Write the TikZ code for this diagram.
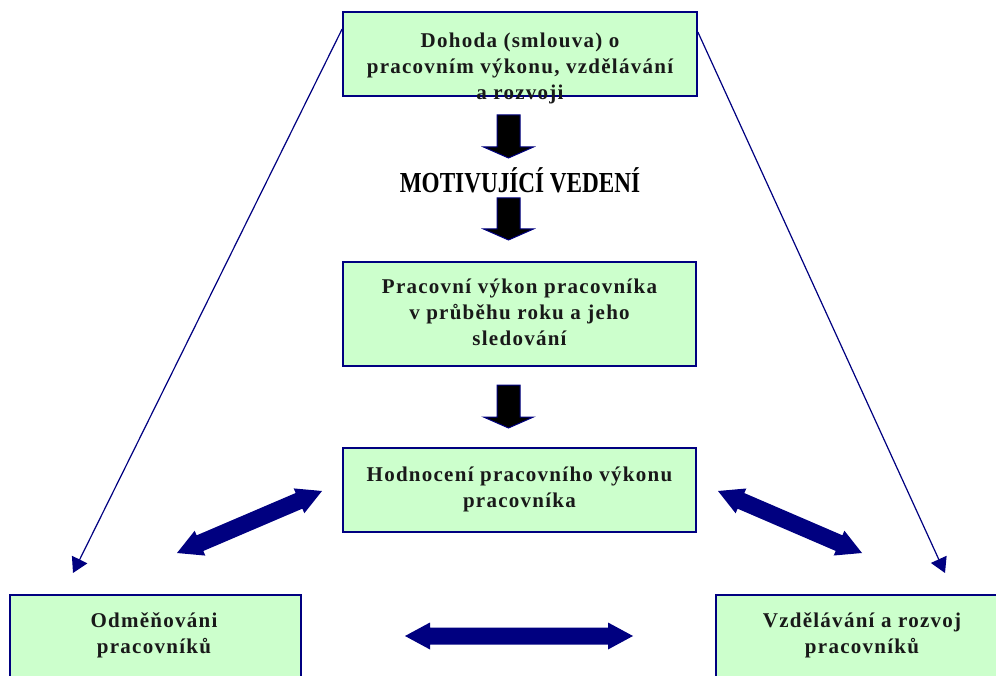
\documentclass[tikz,border=0pt]{standalone}
\usepackage{fontspec}
\usepackage{graphicx}
\setmainfont{Liberation Serif}
\newfontfamily\boxfont{Liberation Serif}[LetterSpace=6]
\usetikzlibrary{arrows.meta,calc}
\definecolor{navy}{HTML}{000080}
\definecolor{boxgreen}{HTML}{CCFFCC}
\newcommand\thickdbl[2]{%
  \fill[navy] (#1)
  -- ($(#1)!25pt!(#2)!13.5pt!90:(#2)$)
  -- ($(#1)!25pt!(#2)!8.5pt!90:(#2)$)
  -- ($(#2)!25pt!(#1)!8.5pt!-90:(#1)$)
  -- ($(#2)!25pt!(#1)!13.5pt!-90:(#1)$)
  -- (#2)
  -- ($(#2)!25pt!(#1)!13.5pt!90:(#1)$)
  -- ($(#2)!25pt!(#1)!8.5pt!90:(#1)$)
  -- ($(#1)!25pt!(#2)!8.5pt!-90:(#2)$)
  -- ($(#1)!25pt!(#2)!13.5pt!-90:(#2)$)
  -- cycle;}
\begin{document}
\begin{tikzpicture}[x=1pt,y=-1pt,
  box/.style={draw=navy,fill=boxgreen,line width=1.8pt,inner sep=0pt},
  txt/.style={font=\boxfont\bfseries\fontsize{21}{26}\selectfont,align=center,inner sep=0pt,text=black!90},
  thinarr/.style={draw=navy,line width=1.2pt,-{Triangle[length=15pt,width=17pt]}},
  pics/downarr/.style={code={
    \filldraw[fill=black,draw=navy,line width=1pt,line join=miter]
      (-11.5,0) -- (11.5,0) -- (11.5,#1-11) -- (25,#1-11) -- (0,#1)
      -- (-25,#1-11) -- (-11.5,#1-11) -- cycle;}}]
\useasboundingbox (0,0) rectangle (996,676);
% boxes
\node[box,minimum width=354,minimum height=84] (top) at (520,54) {};
\node[box,minimum width=353,minimum height=104] (perf) at (519.5,314) {};
\node[box,minimum width=353,minimum height=84] (eval) at (519.5,490) {};
\node[box,minimum width=291,minimum height=110] (reward) at (155.5,650) {};
\node[box,minimum width=294,minimum height=110] (dev) at (863,650) {};
% texts
\node[txt] (topt) at (520,68) {Dohoda (smlouva) o\\pracovním výkonu, vzdělávání\\a rozvoji};
\node[txt] (perft) at (519.5,312.5) {Pracovní výkon pracovníka\\v průběhu roku a jeho\\sledování};
\node[txt] (evalt) at (519.5,489.5) {Hodnocení pracovního výkonu\\pracovníka};
\node[txt] (rewardt) at (154,635.5) {Odměňováni\\pracovníků};
\node[txt] (devt) at (862,635.5) {Vzdělávání a rozvoj\\pracovníků};
\node[font=\bfseries\fontsize{29}{29}\selectfont,anchor=base,inner sep=0pt] (mot) at (520,193) {\scalebox{0.8}[1]{MOTIVUJÍCÍ VEDENÍ}};
% block down arrows
\pic at (508.5,115) {downarr=43};
\pic at (508.5,198) {downarr=42};
\pic at (508.5,385) {downarr=43};
% thin arrows
\coordinate (lt) at (73,573);
\coordinate (rt) at (945,573);
\draw[thinarr] ($(top.north west)+(0,18)$) -- (lt);
\draw[thinarr] ($(top.north east)+(0,21)$) -- (rt);
% thick double arrows
\coordinate (l1) at (177,553);
\coordinate (l2) at (322,491);
\coordinate (r1) at (718,491);
\coordinate (r2) at (862,553);
\coordinate (h1) at (405,636);
\coordinate (h2) at (633,636);
\thickdbl{l1}{l2}
\thickdbl{r1}{r2}
\thickdbl{h1}{h2}
\end{tikzpicture}
\end{document}
